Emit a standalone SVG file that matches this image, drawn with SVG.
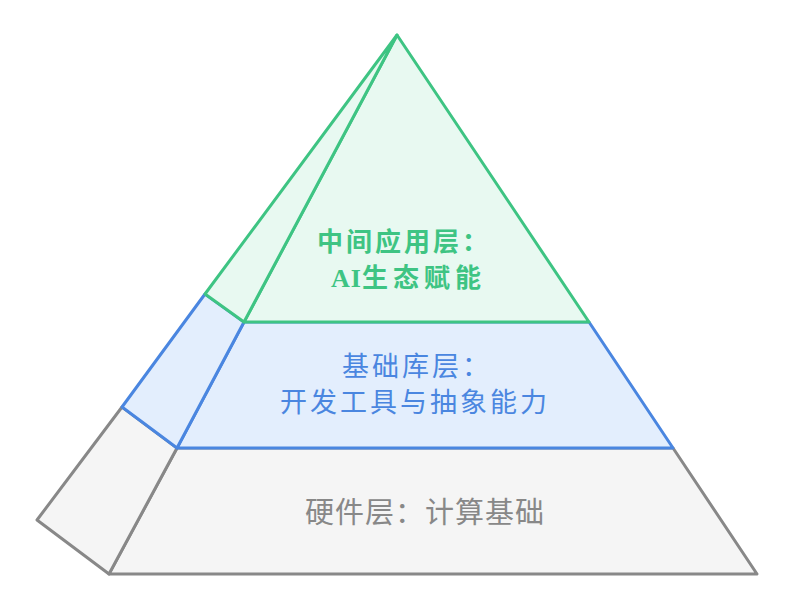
<svg xmlns="http://www.w3.org/2000/svg" width="795" height="615" viewBox="0 0 795 615">
<style>
.face{stroke-width:3;stroke-linejoin:round}
.g{fill:#f5f5f5;stroke:#888888}
.b{fill:#e3eefd;stroke:#4a86e0}
.t{fill:#e8f9f1;stroke:#3ec483}
.lbl{font-family:"Noto Sans CJK SC","Liberation Sans",sans-serif}
.grn{font-family:"Liberation Serif","Noto Sans CJK SC",serif;font-weight:bold;font-size:26px;letter-spacing:3px;fill:#3ec483}
.blu{font-size:27px;letter-spacing:3px;fill:#4a86e0}
</style>
<rect width="795" height="615" fill="#ffffff"/>
<g id="layer-hardware">
<polygon class="face g" points="177,448 673,448 757,574 109,574"/>
<polygon class="face g" points="122,407 177,448 109,574 37,520"/>
<text class="lbl" x="305" y="523" font-size="29" letter-spacing="1" fill="#888888">硬件层：计算基础</text>
</g>
<g id="layer-library">
<polygon class="face b" points="244,322 589,322 673,448 177,448"/>
<polygon class="face b" points="205,294 244,322 177,448 122,407"/>
<text class="lbl blu" x="342" y="376">基础库层：</text>
<text class="lbl blu" x="280" y="412">开发工具与抽象能力</text>
</g>
<g id="layer-application">
<polygon class="face t" points="397,35 589,322 244,322"/>
<polygon class="face t" points="397,35 244,322 205,294"/>
<text class="grn" x="317" y="251">中间应用层：</text>
<text class="grn" x="331" y="287"><tspan letter-spacing="1">AI</tspan><tspan letter-spacing="5">生态赋能</tspan></text>
</g>
<g id="connectors"></g>
</svg>
